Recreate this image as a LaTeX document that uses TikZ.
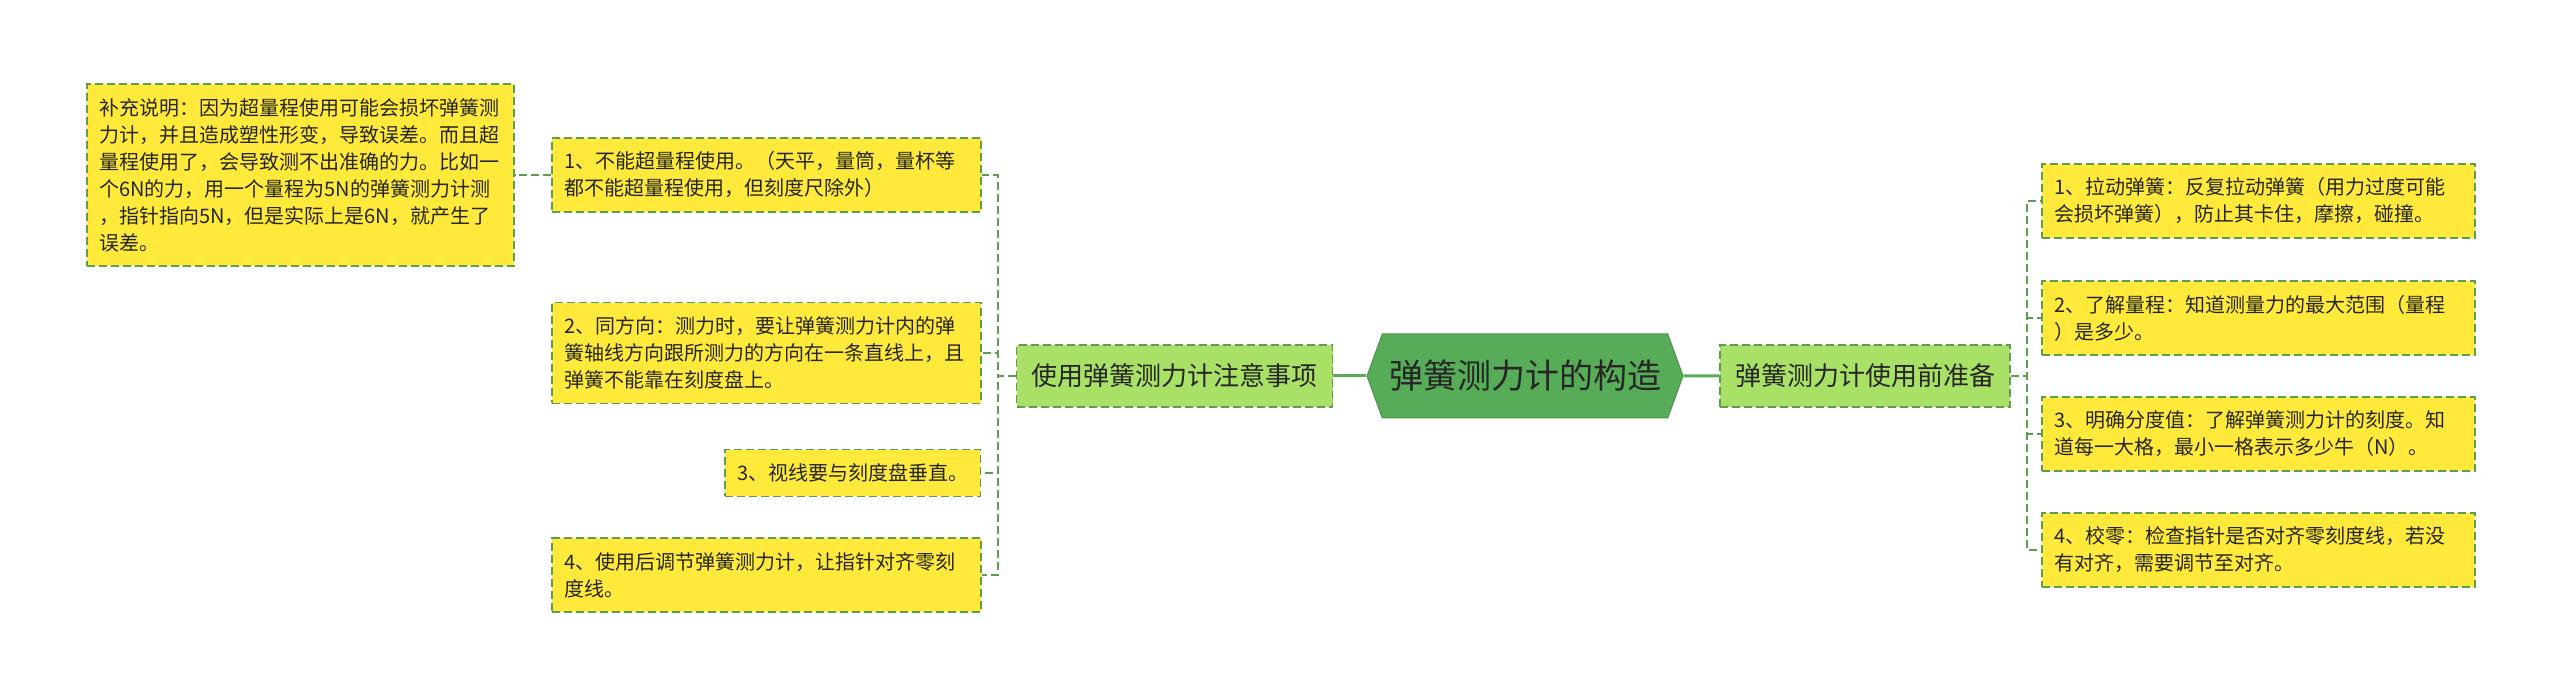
\documentclass[tikz,border=0pt]{standalone}
\usepackage{fontspec}
\setmainfont{Noto Sans CJK SC}
\usetikzlibrary{shapes.symbols}
\definecolor{leafyellow}{HTML}{FFE93A}
\definecolor{edgegreen}{HTML}{5C9E4E}
\definecolor{topicgreen}{HTML}{A9E066}
\definecolor{rootgreen}{HTML}{57AD57}
\definecolor{inkgray}{HTML}{262626}
\begin{document}
\begin{tikzpicture}[x=1pt, y=-1pt,
  leaf/.style={draw=edgegreen, fill=leafyellow, line width=1.5pt, dash pattern=on 8pt off 4pt, inner xsep=12pt, inner ysep=14pt, text=inkgray, font=\fontsize{20}{27}\selectfont, align=left},
  topic/.style={draw=edgegreen, fill=topicgreen, line width=1.5pt, dash pattern=on 8pt off 4pt, inner xsep=15pt, minimum height=62pt, text=inkgray, font=\fontsize{26}{30}\selectfont},
  hub/.style={signal, signal to=west and east, signal pointer angle=140, draw=rootgreen!85!black, fill=rootgreen, line width=1pt, minimum width=316pt, minimum height=84pt, text=inkgray, font=\fontsize{34}{40}\selectfont},
  link/.style={draw=edgegreen, line width=1.5pt, dash pattern=on 8pt off 4pt},
  stem/.style={draw=rootgreen, line width=3pt}]
  \useasboundingbox (0,0) rectangle (2560,700);
  \node[hub] (root) at (1525,376) {弹簧测力计的构造};
  \node[topic] (care) at (1174.5,376) {使用弹簧测力计注意事项};
  \node[topic] (prep) at (1865,376) {弹簧测力计使用前准备};
  \node[leaf, text width=405pt] (care1) at (766.5,175) {1、不能超量程使用。（天平，量筒，量杯等\\都不能超量程使用，但刻度尺除外）};
  \node[leaf, text width=403pt] (note) at (300.5,175) {补充说明：因为超量程使用可能会损坏弹簧测\\力计，并且造成塑性形变，导致误差。而且超\\量程使用了，会导致测不出准确的力。比如一\\个6N的力，用一个量程为5N的弹簧测力计测\\，指针指向5N，但是实际上是6N，就产生了\\误差。};
  \node[leaf, text width=405pt] (care2) at (766.5,353) {2、同方向：测力时，要让弹簧测力计内的弹\\簧轴线方向跟所测力的方向在一条直线上，且\\弹簧不能靠在刻度盘上。};
  \node[leaf, anchor=east] (care3) at (981,473) {3、视线要与刻度盘垂直。};
  \node[leaf, text width=405pt] (care4) at (766.5,575) {4、使用后调节弹簧测力计，让指针对齐零刻\\度线。};
  \node[leaf, text width=409pt] (prep1) at (2258.5,201) {1、拉动弹簧：反复拉动弹簧（用力过度可能\\会损坏弹簧），防止其卡住，摩擦，碰撞。};
  \node[leaf, text width=409pt] (prep2) at (2258.5,318) {2、了解量程：知道测量力的最大范围（量程\\）是多少。};
  \node[leaf, text width=409pt] (prep3) at (2258.5,434) {3、明确分度值：了解弹簧测力计的刻度。知\\道每一大格，最小一格表示多少牛（N）。};
  \node[leaf, text width=409pt] (prep4) at (2258.5,550) {4、校零：检查指针是否对齐零刻度线，若没\\有对齐，需要调节至对齐。};
  \coordinate (carebus) at (998,376);
  \coordinate (prepbus) at (2027,376);
  \draw[stem] (root) -- (care);
  \draw[stem] (root) -- (prep);
  \foreach \n in {care1,care2,care3,care4}
    \draw[link] (care.west) -- (carebus) |- (\n.east);
  \foreach \n in {prep1,prep2,prep3,prep4}
    \draw[link] (prep.east) -- (prepbus) |- (\n.west);
  \draw[link] (care1.west) -- (note.east);
\end{tikzpicture}
\end{document}
